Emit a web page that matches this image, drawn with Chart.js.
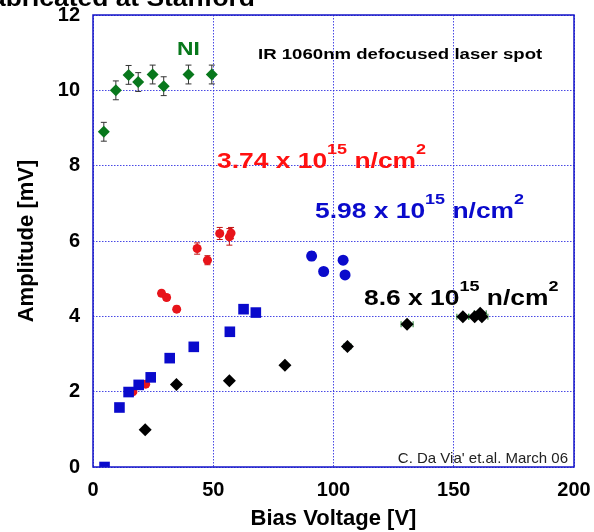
<!DOCTYPE html>
<html>
<head>
<meta charset="utf-8">
<script src="https://cdn.jsdelivr.net/npm/chart.js@4.4.0/dist/chart.umd.min.js"></script>
<style>
  html, body { margin: 0; padding: 0; background: #fff; }
  #wrap { width: 594px; height: 532px; }
</style>
</head>
<body>
<div id="wrap"><canvas id="chart" width="594" height="532"></canvas></div>
<script>
// ===== Data (bias voltage [V], amplitude [mV]) =====
const niV = [4.5, 9.5, 14.8, 18.8, 24.8, 29.4, 39.7, 49.4];
const niAmp = [8.9, 10.0, 10.41, 10.22, 10.42, 10.11, 10.42, 10.42];
const niErr = [0.25, 0.25, 0.25, 0.25, 0.25, 0.25, 0.25, 0.25];

const redV = [16.6, 21.9, 28.5, 30.6, 34.8, 43.3, 47.6, 52.7, 56.7, 57.4];
const redAmp = [2.0, 2.2, 4.61, 4.5, 4.19, 5.8, 5.49, 6.2, 6.11, 6.21];
const redErr = [0.08, 0.08, 0.08, 0.08, 0.08, 0.15, 0.12, 0.16, 0.22, 0.15];

const blueSqV = [4.8, 11, 14.8, 19, 24, 31.9, 41.9, 56.9, 62.6, 67.7];
const blueSqAmp = [0, 1.58, 1.99, 2.18, 2.38, 2.89, 3.19, 3.59, 4.19, 4.1];

const blueCircV = [90.9, 95.9, 104, 104.8];
const blueCircAmp = [5.6, 5.19, 5.49, 5.1];
const blueCircErr = [0.12, 0.05, 0.1, 0.05];

const blackV = [21.7, 34.7, 56.7, 79.8, 105.8, 130.6, 153.8, 158.7, 161, 161.7];
const blackAmp = [0.99, 2.19, 2.29, 2.7, 3.2, 3.79, 3.99, 3.99, 4.08, 3.99];
const blackVErr = [0, 0, 0, 0, 1.5, 2.5, 2.5, 2.5, 2.5, 2.5];

const fluenceLabels = [
  { base: "3.74 x 10", exp: "15", unit: " n/cm", color: "#ff1010" },
  { base: "5.98 x 10", exp: "15", unit: " n/cm", color: "#0a0acc" },
  { base: "8.6 x 10", exp: "15", unit: " n/cm", color: "#000000" },
];

const FONT = '"Liberation Sans", Arial, sans-serif';
const GREEN = "#08781c";
const RED = "#e8141a";
const BLUE = "#0a0acc";

const pts = (xs, ys) => xs.map((v, i) => ({ x: v, y: ys[i] }));

// ===== Helpers =====
function stretchedText(ctx, text, x, y, font, sx, align) {
  ctx.save();
  ctx.font = font;
  const w = ctx.measureText(text).width * sx;
  ctx.translate(align === "right" ? x - w : x, y);
  ctx.scale(sx, 1);
  ctx.textAlign = "left";
  ctx.fillText(text, 0, 0);
  ctx.restore();
  return w;
}

function drawFluence(ctx, lbl, x, y) {
  ctx.fillStyle = lbl.color;
  let cx = x;
  cx += stretchedText(ctx, lbl.base, cx, y, "bold 22px " + FONT, 1.2);
  cx += stretchedText(ctx, lbl.exp, cx, y - 14, "bold 15px " + FONT, 1.2);
  cx += stretchedText(ctx, lbl.unit, cx, y, "bold 22px " + FONT, 1.2);
  stretchedText(ctx, "2", cx, y - 14, "bold 15px " + FONT, 1.2);
}

// scales should not push the plot area in; the layout padding sets it
function noOverhang(s) {
  s.paddingTop = 0;
  s.paddingBottom = 0;
  s.paddingLeft = 0;
  s.paddingRight = 0;
}

// ===== Error bars, drawn through the scales =====
const errorBars = {
  id: "errorBars",
  beforeDatasetsDraw(chart) {
    const { ctx } = chart;
    const xs = chart.scales.x;
    const ys = chart.scales.y;
    ctx.save();
    ctx.lineWidth = 1;
    function vbars(vs, as, es, color) {
      ctx.strokeStyle = color;
      vs.forEach((v, i) => {
        if (!es[i]) return;
        const px = xs.getPixelForValue(v);
        const t = ys.getPixelForValue(as[i] + es[i]);
        const b = ys.getPixelForValue(as[i] - es[i]);
        ctx.beginPath();
        ctx.moveTo(px, t); ctx.lineTo(px, b);
        ctx.moveTo(px - 3, t); ctx.lineTo(px + 3, t);
        ctx.moveTo(px - 3, b); ctx.lineTo(px + 3, b);
        ctx.stroke();
      });
    }
    function hbars(vs, as, es, color) {
      ctx.strokeStyle = color;
      vs.forEach((v, i) => {
        if (!es[i]) return;
        const py = ys.getPixelForValue(as[i]);
        const l = xs.getPixelForValue(v - es[i]);
        const r = xs.getPixelForValue(v + es[i]);
        ctx.beginPath();
        ctx.moveTo(l, py); ctx.lineTo(r, py);
        ctx.moveTo(l, py - 3); ctx.lineTo(l, py + 3);
        ctx.moveTo(r, py - 3); ctx.lineTo(r, py + 3);
        ctx.stroke();
      });
    }
    vbars(niV, niAmp, niErr, "#333333");
    vbars(redV, redAmp, redErr, "#c01010");
    vbars(blueCircV, blueCircAmp, blueCircErr, "#000080");
    hbars(blackV, blackAmp, blackVErr, "#1a7a2a");
    ctx.restore();
  },
};

// ===== Frame and text annotations =====
const decorations = {
  id: "decorations",
  afterDraw(chart) {
    const { ctx, chartArea: a } = chart;
    ctx.save();
    ctx.strokeStyle = "#1414c8";
    ctx.lineWidth = 1.5;
    ctx.strokeRect(a.left, a.top, a.right - a.left, a.bottom - a.top);

    ctx.textBaseline = "alphabetic";
    ctx.fillStyle = "#000";
    stretchedText(ctx, "fabricated at Stanford", 255, 6, "bold 24px " + FONT, 1.1, "right");

    ctx.fillStyle = GREEN;
    stretchedText(ctx, "NI", 177, 55, "bold 19px " + FONT, 1.2);

    ctx.fillStyle = "#000";
    stretchedText(ctx, "IR 1060nm defocused laser spot", 258, 59, "bold 15px " + FONT, 1.24);

    drawFluence(ctx, fluenceLabels[0], 217, 168);
    drawFluence(ctx, fluenceLabels[1], 315, 218);
    drawFluence(ctx, fluenceLabels[2], 364, 305);

    ctx.fillStyle = "#222";
    stretchedText(ctx, "C. Da Via' et.al. March 06", 568, 463, "15px " + FONT, 1.0, "right");
    ctx.restore();
  },
};

const gridStyle = {
  color: "rgba(40,40,225,0.85)",
  lineWidth: 1,
  drawTicks: false,
};

new Chart(document.getElementById("chart"), {
  type: "scatter",
  data: {
    datasets: [
      {
        label: "5.98e15 (low V)",
        data: pts(blueSqV, blueSqAmp),
        pointStyle: "rect",
        pointRadius: 7.5,
        backgroundColor: BLUE,
        borderColor: BLUE,
        borderWidth: 0,
      },
      {
        label: "5.98e15",
        data: pts(blueCircV, blueCircAmp),
        pointStyle: "circle",
        pointRadius: 5.5,
        backgroundColor: BLUE,
        borderColor: BLUE,
        borderWidth: 0,
      },
      {
        label: "8.6e15",
        data: pts(blackV, blackAmp),
        pointStyle: "rectRot",
        pointRadius: 6.5,
        backgroundColor: "#000",
        borderColor: "#000",
        borderWidth: 0,
      },
      {
        label: "3.74e15",
        data: pts(redV, redAmp),
        pointStyle: "circle",
        pointRadius: 4.5,
        backgroundColor: RED,
        borderColor: RED,
        borderWidth: 0,
      },
      {
        label: "NI",
        data: pts(niV, niAmp),
        pointStyle: "rectRot",
        pointRadius: 6,
        backgroundColor: GREEN,
        borderColor: GREEN,
        borderWidth: 0,
      },
    ],
  },
  options: {
    responsive: false,
    animation: false,
    layout: { padding: { top: 15, right: 20, left: 0, bottom: 0 } },
    plugins: { legend: { display: false }, tooltip: { enabled: false } },
    scales: {
      x: {
        type: "linear",
        min: 0,
        max: 200,
        ticks: {
          stepSize: 50,
          color: "#000",
          padding: 11,
          maxRotation: 0,
          font: { family: FONT, size: 20, weight: "bold" },
        },
        grid: { ...gridStyle },
        border: { display: false, dash: [1.5, 1.5] },
        title: {
          display: true,
          text: "Bias Voltage [V]",
          color: "#000",
          padding: { top: 0, bottom: 0 },
          font: { family: FONT, size: 22, weight: "bold" },
        },
        afterFit: (s) => { s.height = 65; noOverhang(s); },
      },
      y: {
        type: "linear",
        min: 0,
        max: 12,
        ticks: {
          stepSize: 2,
          color: "#000",
          padding: 13,
          font: { family: FONT, size: 20, weight: "bold" },
        },
        grid: { ...gridStyle },
        border: { display: false, dash: [1.5, 1.5] },
        title: {
          display: true,
          text: "Amplitude [mV]",
          color: "#000",
          padding: { top: 14, bottom: 0 },
          font: { family: FONT, size: 22, weight: "bold" },
        },
        afterFit: (s) => { s.width = 93; noOverhang(s); },
      },
    },
  },
  plugins: [errorBars, decorations],
});
</script>
</body>
</html>
